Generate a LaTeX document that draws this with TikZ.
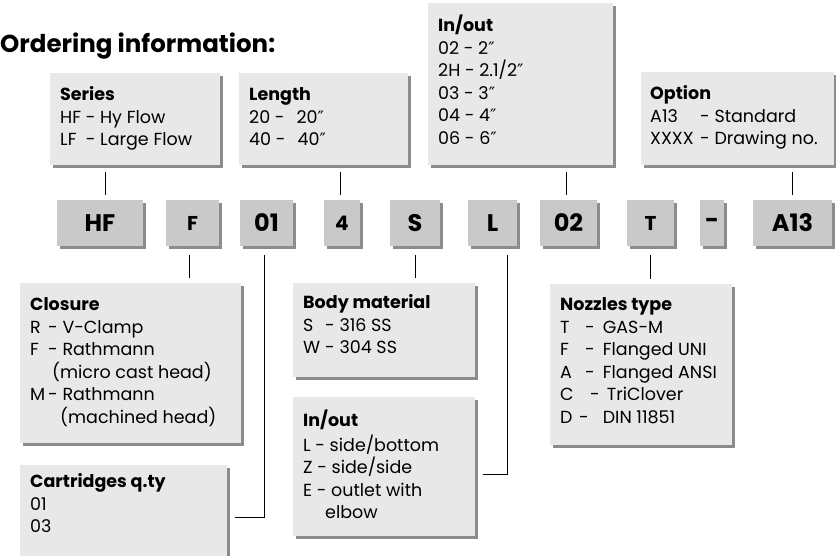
\documentclass[tikz,border=0pt]{standalone}
\usepackage{fontspec}
\setmainfont{Poppins}
\newfontfamily\primefont{DejaVu Sans}
\usepackage{tikz}
\usetikzlibrary{shadows}

\newcommand{\keycol}[2]{\makebox[#1][l]{#2}}
\newcommand{\inch}{{\primefont\fontsize{17}{20}\selectfont ″}}

\begin{document}
\begin{tikzpicture}[
    x=1pt, y=-1pt,
    infobox/.style={rectangle, fill=black!9, anchor=north west, inner sep=0pt,
      drop shadow={shadow xshift=3pt, shadow yshift=-3pt, fill=black!45, opacity=1}},
    infotext/.style={anchor=north west, inner sep=0pt, align=left,
      font=\fontsize{17.5}{22.5}\selectfont},
    codebox/.style={rectangle, fill=black!21, inner sep=0pt, minimum height=46pt,
      font=\fontsize{24}{26}\selectfont\bfseries,
      drop shadow={shadow xshift=3pt, shadow yshift=-3pt, fill=black!45, opacity=1}},
    small/.style={font=\fontsize{20}{22}\selectfont\bfseries},
    link/.style={draw, line width=0.9pt},
    up/.style={link, shorten <=5pt, shorten >=7pt},
    down/.style={link, shorten <=9pt, shorten >=5pt}
  ]
    \useasboundingbox (0,0) rectangle (836,555);

    % title
    \node[anchor=base west, inner sep=0pt, font=\fontsize{24.5}{28}\selectfont\bfseries]
      (title) at (0,52) {Ordering information:};

    % option boxes above
    \node[infobox, minimum width=170pt, minimum height=92pt]  (series) at (50,73) {};
    \node[infobox, minimum width=169pt, minimum height=92pt]  (length) at (239,73) {};
    \node[infobox, minimum width=185pt, minimum height=162pt] (inoutA) at (428,3) {};
    \node[infobox, minimum width=193pt, minimum height=93pt]  (option) at (641,72) {};

    \node[infotext] (seriesTxt) at (60,85) {\strut\textbf{Series}\\
      HF - Hy Flow\\ LF\ \ - Large Flow};
    \node[infotext] (lengthTxt) at (249,85) {\strut\textbf{Length}\\
      20 -\hspace{12pt}20\inch\\ 40 -\hspace{12pt}40\inch};
    \node[infotext] (inoutATxt) at (438,15) {\strut\textbf{In/out}\\
      02 - 2\inch\\ 2H - 2.1/2\inch\\ 03 - 3\inch\\ 04 - 4\inch\\ 06 - 6\inch};
    \node[infotext] (optionTxt) at (650,84) {\strut\textbf{Option}\\
      \keycol{50pt}{A13}- Standard\\ \keycol{50pt}{XXXX}- Drawing no.};

    % code boxes
    \node[codebox, minimum width=86pt] (cHF)  at (100,223)   {HF};
    \node[codebox, small, minimum width=53pt] (cF) at (192.5,223) {F};
    \node[codebox, minimum width=53pt] (c01)  at (266.5,223) {01};
    \node[codebox, small, minimum width=36pt] (c4) at (342,223) {4};
    \node[codebox, minimum width=50pt] (cS)   at (415,223)   {S};
    \node[codebox, minimum width=49pt] (cL)   at (492.5,223) {L};
    \node[codebox, minimum width=57pt] (c02)  at (568.5,223) {02};
    \node[codebox, small, minimum width=47pt] (cT) at (650.5,223) {T};
    \node[codebox, minimum width=24pt] (cDash) at (712,223)  {-};
    \node[codebox, minimum width=79pt] (cA13) at (792.5,223) {A13};

    % option boxes below
    \node[infobox, minimum width=221pt, minimum height=160pt] (closure) at (20,283) {};
    \node[infobox, minimum width=207pt, minimum height=105pt] (cart)    at (20,465) {};
    \node[infobox, minimum width=182pt, minimum height=94pt]  (body)    at (293,283) {};
    \node[infobox, minimum width=182pt, minimum height=139pt] (inoutB)  at (293,397) {};
    \node[infobox, minimum width=182pt, minimum height=161pt] (nozzles) at (550,284) {};

    \node[infotext] (closureTxt) at (30,295) {\strut\textbf{Closure}\\
      \keycol{18pt}{R}- V-Clamp\\ \keycol{18pt}{F}- Rathmann\\
      \hspace{22pt}(micro cast head)\\ \keycol{18pt}{M}- Rathmann\\
      \hspace{30pt}(machined head)};
    \node[infotext] (cartTxt) at (30,472) {\strut\textbf{Cartridges q.ty}\\ 01\\ 03};
    \node[infotext] (bodyTxt) at (303,293) {\strut\textbf{Body material}\\
      \keycol{22pt}{S}- 316 SS\\ \keycol{22pt}{W}- 304 SS};
    \node[infotext] (inoutBTxt) at (303,410) {\strut\textbf{In/out}\\
      L - side/bottom\\ Z - side/side\\ E - outlet with\\ \hspace{22pt}elbow};
    \node[infotext] (nozzlesTxt) at (560,295) {\strut\textbf{Nozzles type}\\
      \keycol{25pt}{T}-\hspace{8pt}GAS-M\\ \keycol{25pt}{F}-\hspace{8pt}Flanged UNI\\
      \keycol{25pt}{A}-\hspace{8pt}Flanged ANSI\\ \keycol{30pt}{C}-\hspace{7pt}TriClover\\
      \keycol{19pt}{D}-\hspace{14pt}DIN 11851};

    % connectors
    \draw[up] ([xshift=5pt]cHF.north) -- ([xshift=5pt]cHF.north |- series.south);
    \draw[up] ([xshift=-2pt]c4.north) -- ([xshift=-2pt]c4.north |- length.south);
    \draw[up] ([xshift=-2pt]c02.north) -- ([xshift=-2pt]c02.north |- inoutA.south);
    \draw[up] (cA13.north) -- (cA13.north |- option.south);

    \draw[down] ([xshift=-3pt]cF.south) -- ([xshift=-3pt]cF.south |- closure.north);
    \draw[link, shorten <=9pt, shorten >=8pt] ([xshift=-2.5pt]c01.south) |- (cart.east);
    \draw[down] (cS.south) -- (cS.south |- body.north);
    \draw[link, shorten <=9pt, shorten >=8pt] ([xshift=14.5pt]cL.south) |- ([yshift=-7.5pt]inoutB.east);
    \draw[down] (cT.south) -- (cT.south |- nozzles.north);
\end{tikzpicture}
\end{document}
